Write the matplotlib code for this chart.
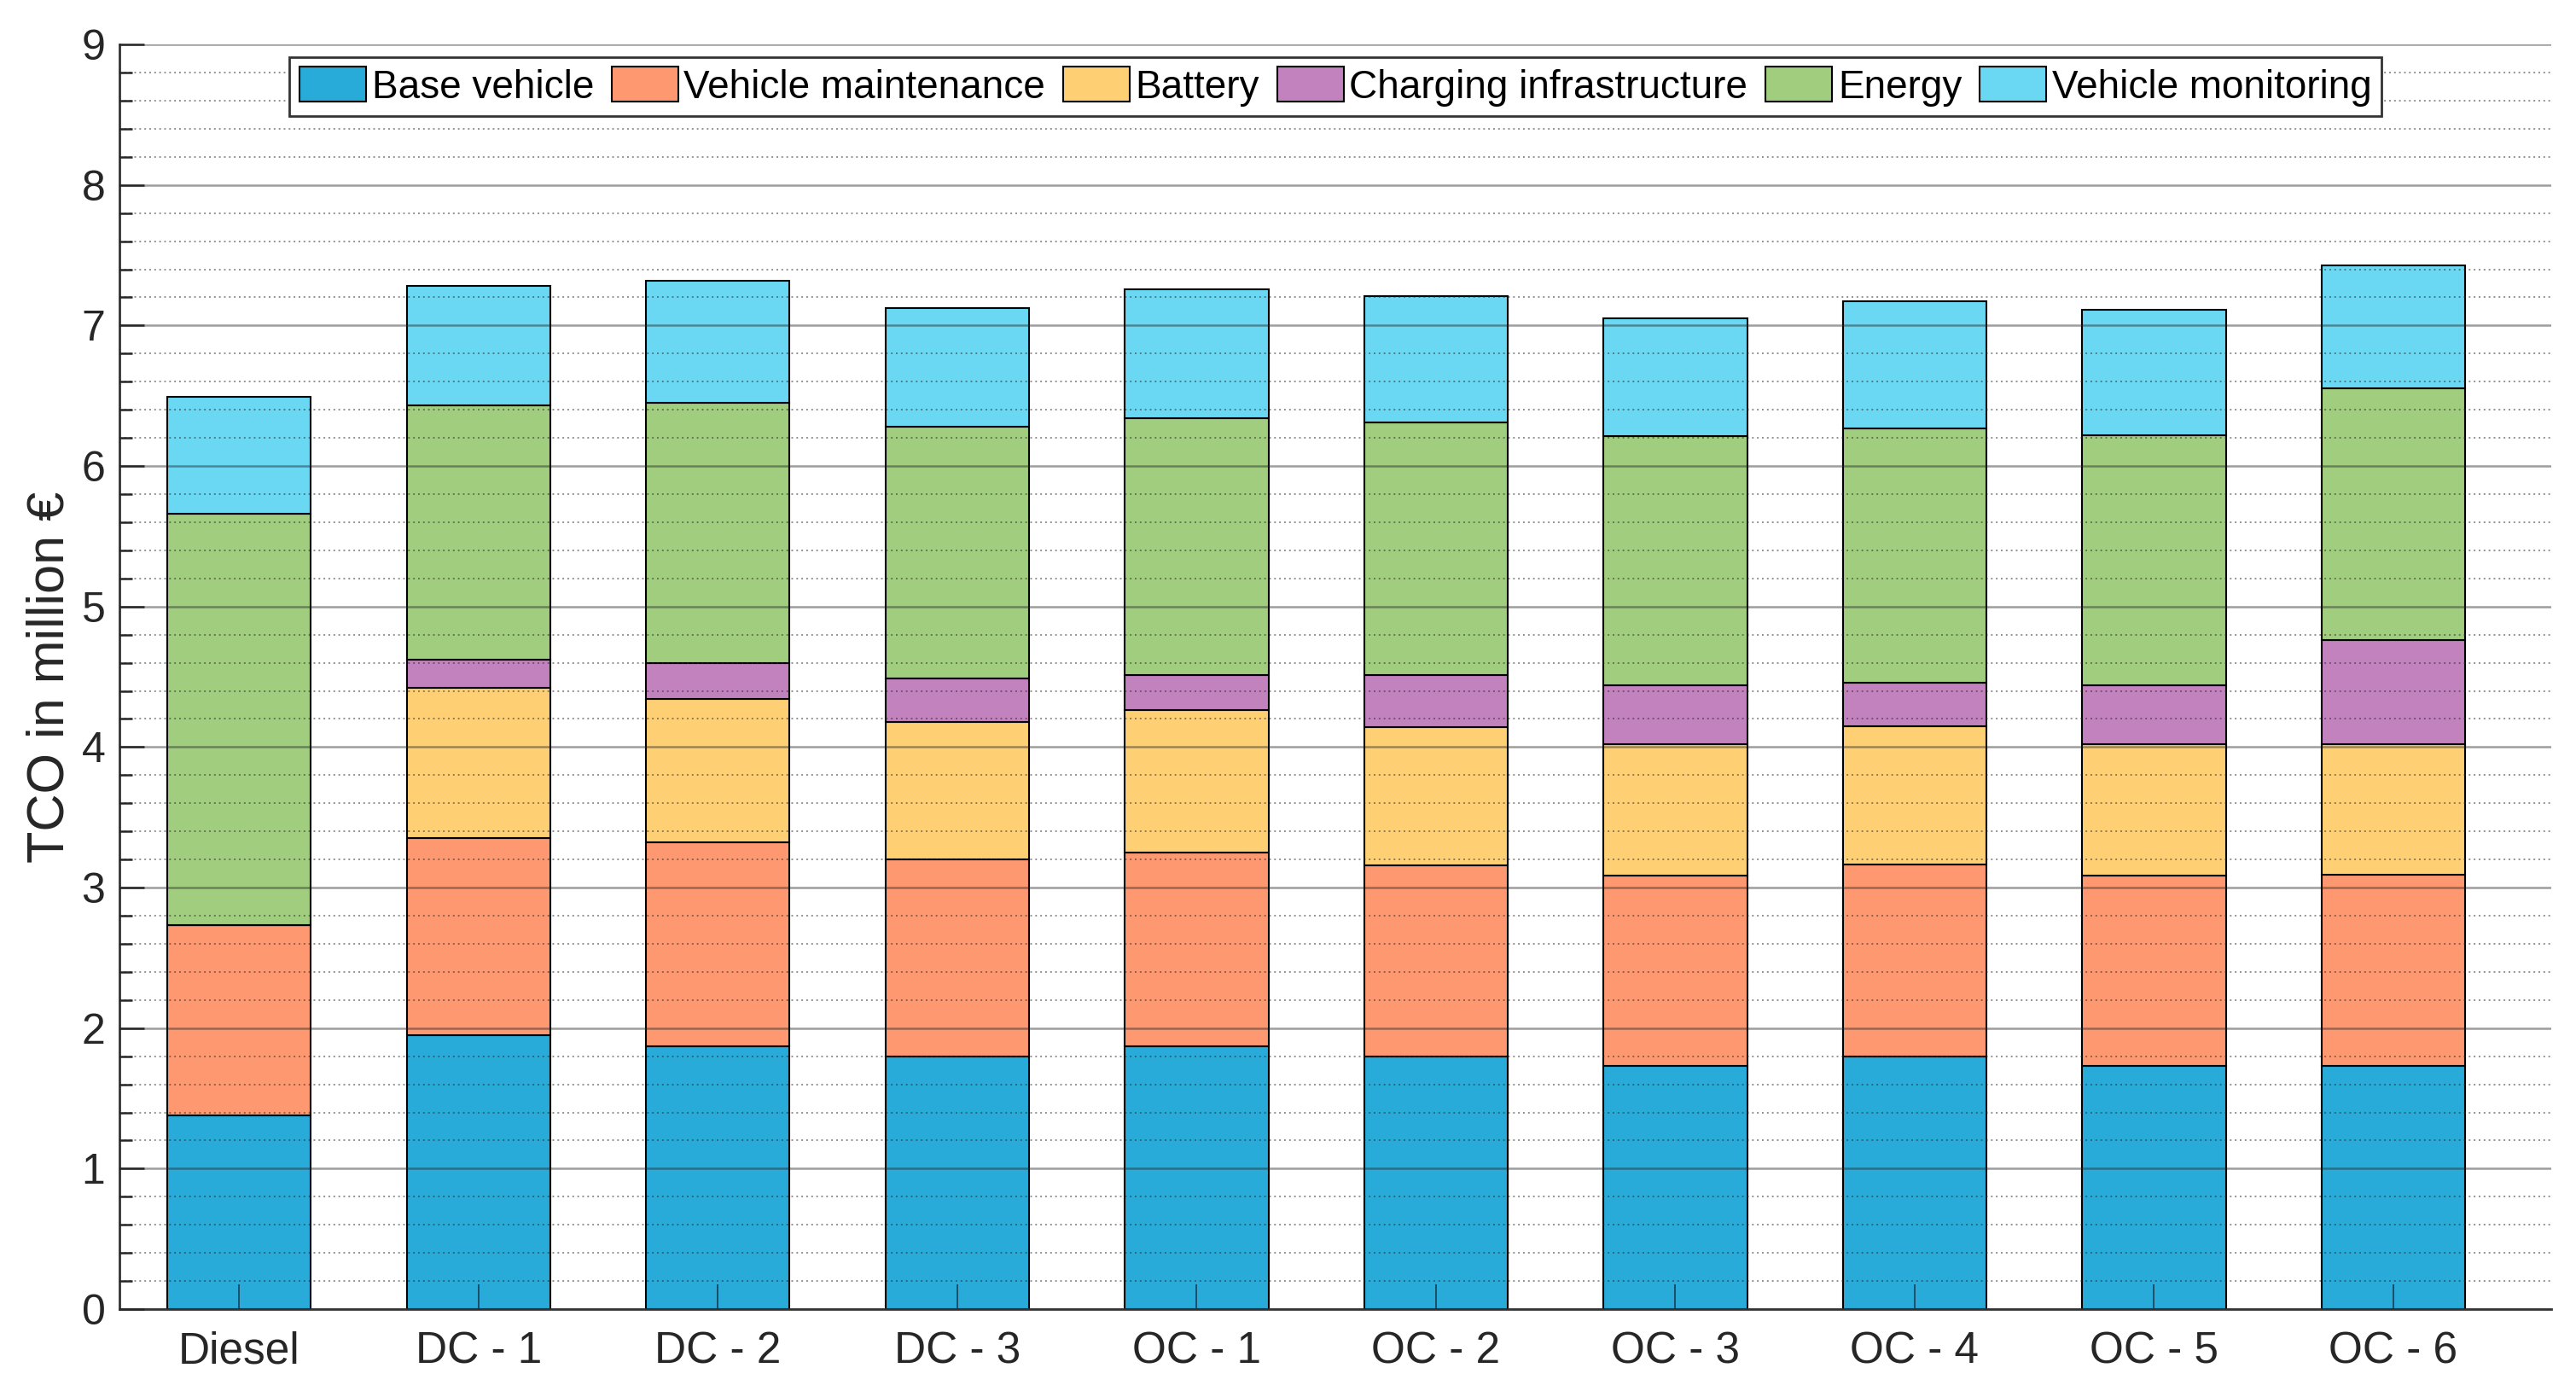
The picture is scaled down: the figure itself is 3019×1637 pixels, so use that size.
import numpy as np
import matplotlib
matplotlib.use('Agg')
import matplotlib.pyplot as plt
from matplotlib.ticker import MultipleLocator

plt.rcParams['font.family'] = ['Liberation Sans', 'DejaVu Sans']

scenarios = ['Diesel', 'DC - 1', 'DC - 2', 'DC - 3', 'OC - 1', 'OC - 2',
             'OC - 3', 'OC - 4', 'OC - 5', 'OC - 6']
components = ['Base vehicle', 'Vehicle maintenance', 'Battery',
              'Charging infrastructure', 'Energy', 'Vehicle monitoring']

# cumulative tops (million EUR)
top_base = np.array([1.38, 1.95, 1.87, 1.80, 1.87, 1.80, 1.73, 1.80, 1.73, 1.73])
top_maint = np.array([2.735, 3.355, 3.32, 3.20, 3.25, 3.16, 3.085, 3.165, 3.085, 3.09])
top_batt = np.array([2.735, 4.42, 4.34, 4.18, 4.265, 4.14, 4.02, 4.15, 4.02, 4.02])
top_charge = np.array([2.735, 4.62, 4.60, 4.49, 4.51, 4.51, 4.44, 4.46, 4.44, 4.76])
top_energy = np.array([5.66, 6.43, 6.45, 6.28, 6.34, 6.31, 6.21, 6.27, 6.22, 6.55])
top_monitor = np.array([6.49, 7.28, 7.32, 7.125, 7.26, 7.21, 7.05, 7.17, 7.11, 7.43])

tops = [top_base, top_maint, top_batt, top_charge, top_energy, top_monitor]
colors = ['#29abd9', '#fe9870', '#fed073', '#c282bd', '#a0cd7e', '#6ad8f3']

fig = plt.figure(figsize=(30.19, 16.37), dpi=100)
ax = fig.add_axes([0.0464, 0.0629, 0.9440, 0.9053])

x = np.arange(1, len(scenarios) + 1)
bottom = np.zeros(len(scenarios))
for name, top, col in zip(components, tops, colors):
    ax.bar(x, top - bottom, 0.6, bottom=bottom, color=col, edgecolor='black',
           linewidth=1.5, label=name, zorder=1)
    bottom = top

ax.set_xlim(0.5, 10.66)
ax.set_ylim(0, 9)
ax.set_xticks(x)
ax.set_xticklabels(scenarios)
ax.yaxis.set_major_locator(MultipleLocator(1))
ax.yaxis.set_minor_locator(MultipleLocator(0.2))

ax.set_axisbelow(False)
ax.grid(which='major', axis='y', color='#262626', alpha=0.45, linewidth=1.8)
ax.grid(which='minor', axis='y', color='#262626', alpha=0.5, linewidth=1.4,
        linestyle=(0, (1, 2.0)))

for s in ['top', 'right']:
    ax.spines[s].set_visible(False)
for s in ['left', 'bottom']:
    ax.spines[s].set_color('#333333')
    ax.spines[s].set_linewidth(2)

ax.tick_params(axis='y', which='major', direction='in', length=21, width=1.8,
               color='#262626', labelsize=36, labelcolor='#262626', pad=12)
ax.tick_params(axis='y', which='minor', direction='in', length=11, width=1.8,
               color='#262626')
ax.tick_params(axis='x', which='major', direction='in', length=21, width=1.2,
               color='#1a3d55', labelsize=37, labelcolor='#262626', pad=18)
ax.tick_params(axis='x', which='minor', bottom=False)

ax.set_ylabel('TCO in million €', fontsize=44, color='#262626', labelpad=6)

leg = ax.legend(loc='upper center', bbox_to_anchor=(0.5, 0.99), ncol=6,
                fontsize=33, frameon=True, fancybox=False, handlelength=1.7,
                handleheight=1.0, handletextpad=0.15, columnspacing=0.45,
                borderpad=0.25, borderaxespad=0.0)
leg.get_frame().set_edgecolor('#333333')
leg.get_frame().set_linewidth(2)
leg.get_frame().set_alpha(1)

fig.savefig('out.png', dpi=100)
